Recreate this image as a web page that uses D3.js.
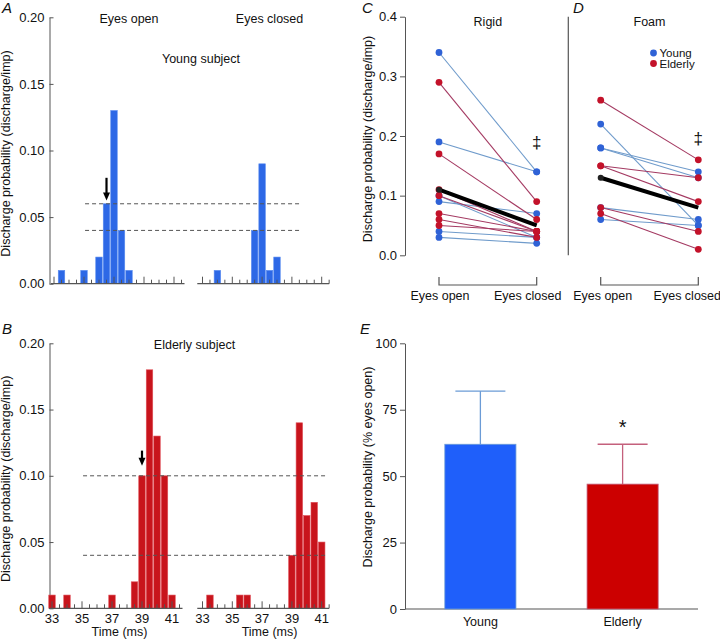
<!DOCTYPE html>
<html><head><meta charset="utf-8">
<script src="https://cdn.jsdelivr.net/npm/d3@7"></script>
<style>
body{margin:0;background:#fff;}
svg{display:block;}
text{font-family:"Liberation Sans",Arial,Helvetica,sans-serif;fill:#111;}
</style></head>
<body>
<svg id="c" width="720" height="639"></svg>
<script>
// ---------- DATA ----------
// Panel A (young subject): bin centre (ms) and discharge probability
const aOpenTime   = [33.5, 35, 36, 36.5, 37, 37.5, 38];
const aOpenProb   = [0.01, 0.01, 0.02, 0.06, 0.13, 0.04, 0.01];
const aClosedTime = [34, 36.5, 37, 37.5, 38];
const aClosedProb = [0.01, 0.04, 0.09, 0.01, 0.02];
const aRefLines   = [0.06, 0.04];
// Panel B (elderly subject)
const bOpenTime   = [33, 34, 37, 38.5, 39, 39.5, 40, 40.5, 41];
const bOpenProb   = [0.01, 0.01, 0.01, 0.02, 0.10, 0.18, 0.13, 0.10, 0.01];
const bClosedTime = [33.5, 35.5, 36, 39, 39.5, 40, 40.5, 41];
const bClosedProb = [0.01, 0.01, 0.01, 0.04, 0.14, 0.07, 0.08, 0.05];
const bRefLines   = [0.10, 0.04];
const histYTicks  = [0, 0.05, 0.10, 0.15, 0.20];
const timeTicks   = [33, 35, 37, 39, 41];

// Panel C (rigid): eyes open -> eyes closed per subject
const conditions = ["Eyes open", "Eyes closed"];
const cYoungOpen    = [0.34, 0.19, 0.10, 0.09, 0.04, 0.03];
const cYoungClosed  = [0.14, 0.14, 0.03, 0.07, 0.03, 0.02];
const cElderOpen    = [0.29, 0.17, 0.11, 0.10, 0.07, 0.06, 0.05];
const cElderClosed  = [0.09, 0.06, 0.04, 0.04, 0.04, 0.03, 0.04];
const cMean         = [0.11, 0.05];
// Panel D (foam)
const dYoungOpen    = [0.22, 0.18, 0.18, 0.08, 0.06];
const dYoungClosed  = [0.05, 0.14, 0.13, 0.06, 0.05];
const dElderOpen    = [0.26, 0.15, 0.15, 0.08, 0.07];
const dElderClosed  = [0.16, 0.13, 0.09, 0.04, 0.01];
const dMean         = [0.13, 0.08];
const pairYTicks    = [0, 0.1, 0.2, 0.3, 0.4];

// Panel E
const groups     = ["Young", "Elderly"];
const groupMean  = [62, 47];
const groupSD    = [20, 15];
const eYTicks    = [0, 25, 50, 75, 100];

// ---------- STYLE ----------
const BLUE = "#2d68e6", RED = "#c8141c";
const DOT_BLUE = "#2f62d6", DOT_RED = "#c3122a";
const LINE_BLUE = "#6f9bcb", LINE_RED = "#a43a62";
const AX = "#555";
const FS = "12.5px";

const svg = d3.select("#c");

function panelLetter(t, x, y) {
  svg.append("text").attr("x", x).attr("y", y).attr("font-size", "15px")
    .attr("font-style", "italic").text(t);
}

// ---------- Histogram panels ----------
function histPanel(o) {
  const g = svg.append("g");
  const y = d3.scaleLinear([0, 0.2], [o.y0, o.y1]);
  const xL = d3.scaleLinear([33, 41], o.xLeft);
  const xR = d3.scaleLinear([33, 41], o.xRight);
  const bw = (xL(33.5) - xL(33)) - 1;

  const ya = g.append("g").attr("transform", `translate(${o.yAxisX},0)`)
    .call(d3.axisLeft(y).tickValues(histYTicks).tickFormat(d3.format(".2f")).tickSizeInner(-4).tickSizeOuter(0).tickPadding(5));
  ya.select(".domain").attr("stroke", AX);
  ya.selectAll(".tick line").attr("stroke", AX);
  ya.selectAll("text").attr("font-size", "13px").attr("font-family", "Liberation Sans, Arial, sans-serif").attr("fill", "#111");

  g.append("text").attr("transform", `translate(${o.labelX},${(o.y0 + o.y1) / 2 + 3}) rotate(-90)`)
    .attr("text-anchor", "middle").attr("font-size", FS).text("Discharge probability (discharge/imp)");

  const drawBars = (xs, times, probs, col) => {
    g.selectAll(null).data(times.map((t, i) => ({ t, p: probs[i] }))).join("rect")
      .attr("x", d => xs(d.t) - bw / 2).attr("width", bw)
      .attr("y", d => y(d.p)).attr("height", d => y(0) - y(d.p))
      .attr("fill", col).attr("stroke", col === BLUE ? "#5a8cf0" : "#e0505a").attr("stroke-width", 0.6);
  };
  drawBars(xL, o.openT, o.openP, o.color);
  drawBars(xR, o.closedT, o.closedP, o.color);

  const tAxis = (xs, from, to) => {
    g.append("line").attr("x1", xs(from)).attr("x2", xs(to)).attr("y1", y(0)).attr("y2", y(0))
      .attr("stroke", AX).attr("stroke-width", 1.2);
    const tk = d3.range(33, 41.51, 0.5);
    g.selectAll(null).data(tk).join("line")
      .attr("x1", d => xs(d)).attr("x2", d => xs(d))
      .attr("y1", y(0)).attr("y2", d => y(0) - (d % 2 === 1 ? 7 : 4))
      .attr("stroke", AX).attr("stroke-width", 1);
    if (o.labels) {
      g.selectAll(null).data(timeTicks).join("text")
        .attr("x", d => xs(d)).attr("y", y(0) + 15).attr("text-anchor", "middle")
        .attr("font-size", "13px").text(d => d);
      g.append("text").attr("x", xs(37.5)).attr("y", y(0) + 28).attr("text-anchor", "middle")
        .attr("font-size", FS).text("Time (ms)");
    }
  };
  tAxis(xL, 32.8, 41.7);
  tAxis(xR, 32.65, 41.5);

  g.selectAll(null).data(o.refs).join("line")
    .attr("x1", xL(35.07)).attr("x2", xR(o.refEnd))
    .attr("y1", d => y(d)).attr("y2", d => y(d))
    .attr("stroke", "#555").attr("stroke-width", 1).attr("stroke-dasharray", "4,3");

  const ax = xL(o.arrowT);
  g.append("line").attr("x1", ax).attr("x2", ax).attr("y1", y(o.arrowTop)).attr("y2", y(o.arrowTip) - 6)
    .attr("stroke", "#000").attr("stroke-width", 2.2);
  g.append("path").attr("d", `M${ax - 3.5},${y(o.arrowTip) - 8} L${ax + 3.5},${y(o.arrowTip) - 8} L${ax},${y(o.arrowTip)} Z`)
    .attr("fill", "#000");

  o.texts.forEach(t => {
    g.append("text").attr("x", t[0] === "L" ? xL(t[1]) : xR(t[1])).attr("y", y(t[2]))
      .attr("text-anchor", "middle").attr("font-size", FS).text(t[3]);
  });
}

histPanel({
  y0: 283.7, y1: 17.3, yAxisX: 49.5, labelX: 10,
  xLeft: [54, 174], xRight: [202.5, 321.7], color: BLUE,
  openT: aOpenTime, openP: aOpenProb, closedT: aClosedTime, closedP: aClosedProb,
  refs: aRefLines, refEnd: 39.54, arrowT: 36.5, arrowTop: 0.0795, arrowTip: 0.0625, labels: false,
  texts: [["L", 38.0, 0.1955, "Eyes open"], ["R", 37.5, 0.1955, "Eyes closed"], ["R", 32.9, 0.1655, "Young subject"]]
});
histPanel({
  y0: 608.3, y1: 343.3, yAxisX: 49.5, labelX: 10,
  xLeft: [52, 172], xRight: [202.5, 321.7], color: RED,
  openT: bOpenTime, openP: bOpenProb, closedT: bClosedTime, closedP: bClosedProb,
  refs: bRefLines, refEnd: 41.36, arrowT: 39, arrowTop: 0.119, arrowTip: 0.1075, labels: true,
  texts: [["L", 42.5, 0.1955, "Elderly subject"]]
});
panelLetter("A", 2, 13);
panelLetter("B", 2, 334);

// ---------- Paired panels C & D ----------
const yP = d3.scaleLinear([0, 0.4], [255.3, 16.7]);
const yaP = svg.append("g").attr("transform", "translate(405,0)")
  .call(d3.axisLeft(yP).tickValues(pairYTicks).tickFormat(d3.format(".1f")).tickSizeInner(5).tickSizeOuter(0).tickPadding(3));
yaP.select(".domain").attr("stroke", AX);
yaP.selectAll(".tick line").attr("stroke", AX);
yaP.selectAll("text").attr("font-size", "13px").attr("font-family", "Liberation Sans, Arial, sans-serif").attr("fill", "#111");
svg.append("text").attr("transform", `translate(372,139) rotate(-90)`)
  .attr("text-anchor", "middle").attr("font-size", FS).text("Discharge probability (discharge/imp)");

svg.append("line").attr("x1", 568.3).attr("x2", 568.3).attr("y1", yP(0.4)).attr("y2", yP(0))
  .attr("stroke", AX).attr("stroke-width", 1.2);

function pairPanel(range, yo, yc, eo, ec, mean, title, dagY, labelShift) {
  const x = d3.scalePoint(conditions, range);
  const g = svg.append("g");
  const pairs = (o, c, col) => o.map((v, i) => ({ a: v, b: c[i], col }));
  const lines = pairs(yo, yc, "y").concat(pairs(eo, ec, "e"));
  g.selectAll(null).data(lines).join("line")
    .attr("x1", x(conditions[0])).attr("x2", x(conditions[1]))
    .attr("y1", d => yP(d.a)).attr("y2", d => yP(d.b))
    .attr("stroke", d => d.col === "y" ? LINE_BLUE : LINE_RED).attr("stroke-width", 1.1);
  const dots = [];
  lines.forEach(d => { dots.push({ c: conditions[0], v: d.a, col: d.col }); dots.push({ c: conditions[1], v: d.b, col: d.col }); });
  g.selectAll(null).data(dots).join("circle")
    .attr("cx", d => x(d.c)).attr("cy", d => yP(d.v)).attr("r", 3.4)
    .attr("fill", d => d.col === "y" ? DOT_BLUE : DOT_RED);
  g.append("line").attr("x1", x(conditions[0])).attr("x2", x(conditions[1]))
    .attr("y1", yP(mean[0])).attr("y2", yP(mean[1])).attr("stroke", "#000").attr("stroke-width", 4);
  g.append("circle").attr("cx", x(conditions[0])).attr("cy", yP(mean[0])).attr("r", 3).attr("fill", "#222");
  g.append("text").attr("x", (x(conditions[0]) + x(conditions[1])) / 2).attr("y", 26)
    .attr("text-anchor", "middle").attr("font-size", FS).text(title);
  g.append("text").attr("x", x(conditions[1])).attr("y", yP(dagY))
    .attr("text-anchor", "middle").attr("font-size", "17px").style("fill", "#111").text("\u2021");
  g.append("path").attr("d", `M${x(conditions[0])},277 V285 H${x(conditions[1])} V277`)
    .attr("fill", "none").attr("stroke", AX).attr("stroke-width", 1.2);
  g.append("text").attr("x", x(conditions[0]) + labelShift[0]).attr("y", 300)
    .attr("text-anchor", "middle").attr("font-size", FS).text(conditions[0]);
  g.append("text").attr("x", x(conditions[1]) + labelShift[1]).attr("y", 300)
    .attr("text-anchor", "middle").attr("font-size", FS).text(conditions[1]);
}
pairPanel([439, 536.7], cYoungOpen, cYoungClosed, cElderOpen, cElderClosed, cMean, "Rigid", 0.18, [1, -9]);
pairPanel([600.7, 698.3], dYoungOpen, dYoungClosed, dElderOpen, dElderClosed, dMean, "Foam", 0.186, [2, -11]);
panelLetter("C", 362, 13);
panelLetter("D", 573, 13);

// legend in D
const leg = svg.append("g");
[["Young", DOT_BLUE], ["Elderly", DOT_RED]].forEach((d, i) => {
  leg.append("circle").attr("cx", 653.5).attr("cy", 53 + i * 10.5).attr("r", 3.4).attr("fill", d[1]);
  leg.append("text").attr("x", 659.5).attr("y", 57 + i * 10.5).attr("font-size", "11.5px").text(d[0]);
});

// ---------- Panel E ----------
const yE = d3.scaleLinear([0, 100], [609, 343.3]);
const xE = d3.scaleBand(groups, [405, 698]).paddingInner(0.5).paddingOuter(0.28);
const eg = svg.append("g");
const yaE = eg.append("g").attr("transform", "translate(405,0)")
  .call(d3.axisLeft(yE).tickValues(eYTicks).tickSizeInner(5).tickSizeOuter(0).tickPadding(3));
yaE.select(".domain").attr("stroke", AX);
yaE.selectAll(".tick line").attr("stroke", AX);
yaE.selectAll("text").attr("font-size", "13px").attr("font-family", "Liberation Sans, Arial, sans-serif").attr("fill", "#111");
eg.append("line").attr("x1", 405).attr("x2", 698).attr("y1", yE(0)).attr("y2", yE(0)).attr("stroke", AX).attr("stroke-width", 1.2);
const eCols = [["#1f5ffa", "#6b9bd6"], ["#cc0000", "#c4607c"]];
groups.forEach((gname, i) => {
  const cx = xE(gname) + xE.bandwidth() / 2;
  eg.append("line").attr("x1", cx).attr("x2", cx).attr("y1", yE(groupMean[i])).attr("y2", yE(groupMean[i] + groupSD[i]))
    .attr("stroke", eCols[i][1]).attr("stroke-width", 1.3);
  eg.append("line").attr("x1", cx - 25).attr("x2", cx + 25).attr("y1", yE(groupMean[i] + groupSD[i])).attr("y2", yE(groupMean[i] + groupSD[i]))
    .attr("stroke", eCols[i][1]).attr("stroke-width", 1.3);
  eg.append("rect").attr("x", xE(gname)).attr("width", xE.bandwidth())
    .attr("y", yE(groupMean[i])).attr("height", yE(0) - yE(groupMean[i])).attr("fill", eCols[i][0])
    .attr("stroke", eCols[i][1]).attr("stroke-width", 0.8);
  eg.append("text").attr("x", cx).attr("y", 626).attr("text-anchor", "middle").attr("font-size", FS).text(gname);
});
eg.append("text").attr("x", xE("Elderly") + xE.bandwidth() / 2).attr("y", yE(62) - 10)
  .attr("text-anchor", "middle").attr("font-size", "20px").text("*");
svg.append("text").attr("transform", `translate(372,467) rotate(-90)`)
  .attr("text-anchor", "middle").attr("font-size", FS).text("Discharge probability (% eyes open)");
panelLetter("E", 360, 334);
</script>
</body></html>
